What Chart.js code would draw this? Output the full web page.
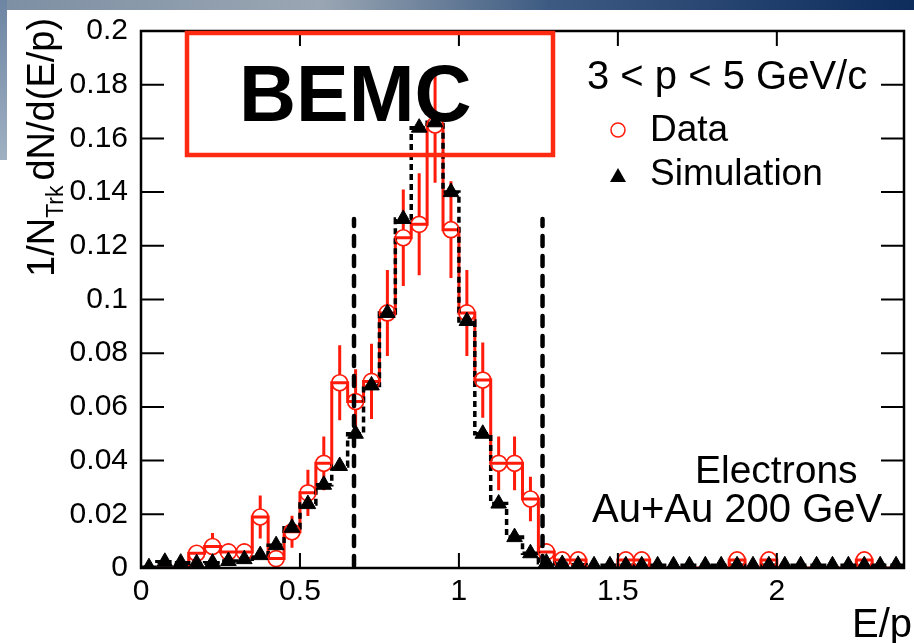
<!DOCTYPE html>
<html>
<head>
<meta charset="utf-8">
<script src="https://cdn.jsdelivr.net/npm/chart.js@4.4.1/dist/chart.umd.min.js"></script>
<style>
  html, body { margin: 0; padding: 0; background: #fff; }
  #wrap { width: 914px; height: 643px; }
</style>
</head>
<body>
<div id="wrap"><canvas id="ep_chart" width="914" height="643"></canvas></div>
<script>
// E/p bins (centers), width 0.05
const binWidth = 0.05;
const binCenters = [0.025, 0.075, 0.125, 0.175, 0.225, 0.275, 0.325, 0.375, 0.425, 0.475,
                    0.525, 0.575, 0.625, 0.675, 0.725, 0.775, 0.825, 0.875, 0.925, 0.975,
                    1.025, 1.075, 1.125, 1.175, 1.225, 1.275, 1.325, 1.375, 1.425, 1.475,
                    1.525, 1.575, 1.625, 1.675, 1.725, 1.775, 1.825, 1.875, 1.925, 1.975,
                    2.025, 2.075, 2.125, 2.175, 2.225, 2.275, 2.325, 2.375];

// Data (red open circles), 0 = empty bin
const dataValues = [0, 0, 0, 0.0055, 0.008, 0.006, 0.006, 0.019, 0.0035, 0.0135,
                    0.028, 0.039, 0.069, 0.062, 0.0695, 0.095, 0.123, 0.128, 0.165, 0.126,
                    0.095, 0.070, 0.039, 0.039, 0.0257, 0.006, 0.003, 0.003, 0, 0,
                    0.003, 0.003, 0, 0, 0, 0, 0, 0.003, 0, 0.003,
                    0, 0, 0, 0, 0, 0.003, 0, 0];
const dataErrors = [0, 0, 0, 0.003, 0.005, 0.003, 0.003, 0.008, 0.003, 0.006,
                    0.0086, 0.010, 0.014, 0.012, 0.014, 0.016, 0.018, 0.019, 0.0215, 0.018,
                    0.016, 0.014, 0.010, 0.010, 0.0083, 0.003, 0.002, 0.002, 0, 0,
                    0.002, 0.002, 0, 0, 0, 0, 0, 0.002, 0, 0.002,
                    0, 0, 0, 0, 0, 0.002, 0, 0];

// Simulation (black triangles)
const simValues = [0.0003, 0.0023, 0.002, 0.0018, 0.002, 0.0026, 0.0033, 0.0048, 0.0085, 0.015,
                   0.0238, 0.031, 0.038, 0.050, 0.068, 0.095, 0.130, 0.164, 0.166, 0.140,
                   0.092, 0.050, 0.024, 0.0115, 0.0055, 0.002, 0.0015, 0.0012, 0.001, 0.001,
                   0.001, 0.001, 0.001, 0.001, 0.001, 0.001, 0.001, 0.001, 0.001, 0.001,
                   0.001, 0.001, 0.001, 0.001, 0.001, 0.001, 0.001, 0.001];

const xTicks = [0, 0.5, 1, 1.5, 2];
const yTicks = [0, 0.02, 0.04, 0.06, 0.08, 0.1, 0.12, 0.14, 0.16, 0.18, 0.2];
const cutLines = [0.67, 1.263];
const cutTop = 0.13;

const RED = "#ff1a0a";
const FONT = "'Liberation Sans', Arial, Helvetica, sans-serif";

function stepPoints(vals) {
    let pts = [];
    for (let i = 0; i < binCenters.length; i++) {
        pts.push({x: binCenters[i] - binWidth / 2, y: vals[i]});
        pts.push({x: binCenters[i] + binWidth / 2, y: vals[i]});
    }
    return pts;
}

let dataPts = binCenters.map((c, i) => ({x: c, y: dataValues[i]}));
let simPts = binCenters.map((c, i) => ({x: c, y: simValues[i]}));

const decorations = {
    id: "decorations",
    beforeDraw(chart) {
        let ctx = chart.ctx;
        ctx.save();
        // bits of the slide background peeking through
        let g = ctx.createLinearGradient(0, 0, 914, 0);
        g.addColorStop(0, "#7d8fa3");
        g.addColorStop(0.35, "#9aa6b3");
        g.addColorStop(0.6, "#3d5b82");
        g.addColorStop(1, "#0e2c5c");
        ctx.fillStyle = g;
        ctx.fillRect(0, 0, 914, 10);
        let g2 = ctx.createLinearGradient(0, 0, 0, 160);
        g2.addColorStop(0, "#6d85a3");
        g2.addColorStop(1, "#9fb0c2");
        ctx.fillStyle = g2;
        ctx.fillRect(0, 0, 7, 160);
        ctx.restore();
    },
    beforeDatasetsDraw(chart) {
        let ctx = chart.ctx;
        let xs = chart.scales.x, ys = chart.scales.y;
        let r = 8;
        ctx.save();
        ctx.strokeStyle = RED;
        ctx.lineWidth = 3;
        for (let i = 0; i < binCenters.length; i++) {
            let v = dataValues[i], e = dataErrors[i];
            if (v <= 0 || e <= 0) continue;
            let px = xs.getPixelForValue(binCenters[i]);
            let py = ys.getPixelForValue(v);
            let top = ys.getPixelForValue(v + e);
            let bot = ys.getPixelForValue(Math.max(v - e, 0));
            ctx.beginPath();
            if (top < py - r) { ctx.moveTo(px, top); ctx.lineTo(px, py - r); }
            if (bot > py + r) { ctx.moveTo(px, py + r); ctx.lineTo(px, bot); }
            ctx.stroke();
        }
        ctx.restore();
    },
    afterDatasetsDraw(chart) {
        let ctx = chart.ctx;
        let a = chart.chartArea;
        let xs = chart.scales.x, ys = chart.scales.y;
        ctx.save();

        // dashed E/p cut lines
        ctx.strokeStyle = "#000";
        ctx.lineWidth = 4.5;
        ctx.lineCap = "round";
        ctx.setLineDash([10, 10]);
        cutLines.forEach(c => {
            let px = xs.getPixelForValue(c);
            ctx.beginPath();
            ctx.moveTo(px, ys.getPixelForValue(0) - 2);
            ctx.lineTo(px, ys.getPixelForValue(cutTop));
            ctx.stroke();
        });
        ctx.setLineDash([]);
        ctx.lineCap = "butt";

        // frame + inside ticks
        ctx.strokeStyle = "#000";
        ctx.lineWidth = 2.5;
        ctx.strokeRect(a.left, a.top, a.right - a.left, a.bottom - a.top);
        ctx.lineWidth = 2;
        ctx.beginPath();
        yTicks.forEach(v => {
            let py = ys.getPixelForValue(v);
            ctx.moveTo(a.left, py); ctx.lineTo(a.left + 23, py);
            ctx.moveTo(a.right, py); ctx.lineTo(a.right - 23, py);
        });
        xTicks.forEach(v => {
            let px = xs.getPixelForValue(v);
            ctx.moveTo(px, a.bottom); ctx.lineTo(px, a.bottom - 15);
            ctx.moveTo(px, a.top); ctx.lineTo(px, a.top + 15);
        });
        ctx.stroke();

        // BEMC box
        ctx.strokeStyle = "#ff2a12";
        ctx.lineWidth = 4.5;
        ctx.strokeRect(187, 33, 366, 122);
        ctx.fillStyle = "#000";
        ctx.font = "bold 79px " + FONT;
        ctx.textAlign = "left";
        ctx.textBaseline = "alphabetic";
        ctx.fillText("BEMC", 239, 121);

        // legend
        ctx.font = "40px " + FONT;
        ctx.fillText("3 < p < 5 GeV/c", 587, 89);
        ctx.font = "37px " + FONT;
        ctx.fillText("Data", 650, 141);
        ctx.fillText("Simulation", 650, 185);
        ctx.strokeStyle = RED;
        ctx.lineWidth = 1.5;
        ctx.beginPath();
        ctx.arc(618, 130, 7, 0, Math.PI * 2);
        ctx.stroke();
        ctx.beginPath();
        ctx.moveTo(618, 168); ctx.lineTo(626, 182); ctx.lineTo(610, 182);
        ctx.closePath();
        ctx.fill();

        // labels
        ctx.font = "39px " + FONT;
        ctx.fillText("Electrons", 695, 483);
        ctx.font = "40px " + FONT;
        ctx.fillText("Au+Au 200 GeV", 592, 522);

        ctx.textAlign = "right";
        ctx.font = "40px " + FONT;
        ctx.fillText("E/p", 912, 637);

        // y title with subscript
        ctx.translate(54, 277);
        ctx.rotate(-Math.PI / 2);
        ctx.textAlign = "left";
        ctx.font = "38px " + FONT;
        ctx.fillText("1/N", 0, 0);
        let w1 = ctx.measureText("1/N").width;
        ctx.font = "23px " + FONT;
        ctx.fillText("Trk", w1, 9);
        let w2 = ctx.measureText("Trk").width;
        ctx.font = "38px " + FONT;
        ctx.fillText("dN/d(E/p)", w1 + w2 + 5, 0);
        ctx.restore();
    }
};

new Chart("ep_chart", {
    type: "scatter",
    data: {
        datasets: [
            {
                label: "Simulation",
                data: simPts,
                pointStyle: "triangle",
                pointRadius: 9,
                backgroundColor: "#000",
                borderColor: "#000",
                borderWidth: 1,
                order: 0
            },
            {
                label: "Data",
                data: dataPts,
                pointStyle: "circle",
                pointRadius: c => (dataValues[c.dataIndex] > 0 ? 8 : 0),
                backgroundColor: "rgba(0,0,0,0)",
                borderColor: RED,
                borderWidth: 1.7,
                order: 1
            },
            {
                label: "sim hist",
                data: stepPoints(simValues),
                showLine: true,
                pointRadius: 0,
                borderColor: "#000",
                borderWidth: 3.5,
                borderDash: [6, 4],
                order: 2
            },
            {
                label: "data hist",
                data: stepPoints(dataValues),
                showLine: true,
                pointRadius: 0,
                borderColor: RED,
                borderWidth: 3,
                order: 3
            }
        ]
    },
    options: {
        responsive: false,
        animation: false,
        events: [],
        layout: {padding: {left: 0, right: 2, top: 24, bottom: 0}},
        plugins: {
            legend: {display: false},
            tooltip: {enabled: false},
            title: {display: false}
        },
        scales: {
            x: {
                type: "linear",
                min: 0,
                max: 2.4,
                afterBuildTicks: s => { s.ticks = xTicks.map(v => ({value: v})); },
                afterFit: s => { s.height = 75; },
                grid: {display: false, drawTicks: false},
                border: {display: false},
                ticks: {
                    color: "#000",
                    font: {size: 30, family: FONT},
                    padding: 6,
                    maxRotation: 0,
                    callback: v => String(v)
                }
            },
            y: {
                type: "linear",
                min: 0,
                max: 0.2,
                afterBuildTicks: s => { s.ticks = yTicks.map(v => ({value: v})); },
                afterFit: s => { s.width = 141; },
                grid: {display: false, drawTicks: false},
                border: {display: false},
                ticks: {
                    color: "#000",
                    font: {size: 30, family: FONT},
                    padding: 13,
                    callback: v => String(Number(v.toFixed(2)))
                }
            }
        }
    },
    plugins: [decorations]
});
</script>
</body>
</html>
